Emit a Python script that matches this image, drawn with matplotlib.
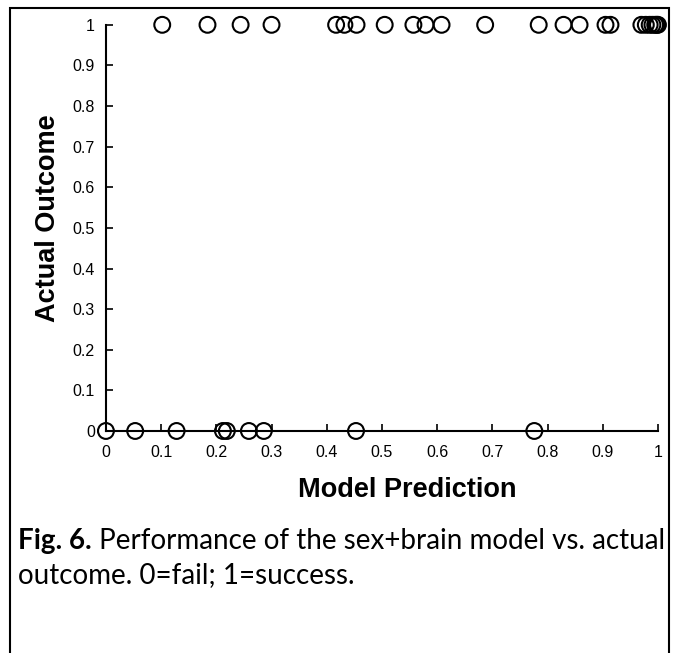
import numpy as np
import matplotlib
matplotlib.use("Agg")
from matplotlib import pyplot as plt
from matplotlib.patches import Rectangle

# model predictions for each outcome group
pred_success = [0.102, 0.184, 0.244, 0.300, 0.417, 0.432, 0.454, 0.505,
                0.557, 0.579, 0.608, 0.687, 0.784, 0.829, 0.858, 0.905,
                0.914, 0.970, 0.978, 0.985, 0.990, 0.995, 0.998, 1.0]
pred_fail = [0.0, 0.053, 0.128, 0.212, 0.219, 0.259, 0.286, 0.453, 0.776]

ticks = [0, 0.1, 0.2, 0.3, 0.4, 0.5, 0.6, 0.7, 0.8, 0.9, 1]
tick_labels = ["0", "0.1", "0.2", "0.3", "0.4", "0.5", "0.6", "0.7", "0.8", "0.9", "1"]

plt.rcParams['font.family'] = ['Liberation Sans', 'DejaVu Sans']

fig = plt.figure(figsize=(6.79, 6.53), dpi=100)
ax = fig.add_axes([0.156, 0.34, 0.813, 0.622])

x = pred_success + pred_fail
y = [1] * len(pred_success) + [0] * len(pred_fail)
ax.scatter(x, y, s=130, facecolors='none', edgecolors='black', linewidths=1.5,
           clip_on=False, zorder=3)

ax.set_xlim(0, 1)
ax.set_ylim(0, 1)
ax.set_xticks(ticks)
ax.set_xticklabels(tick_labels)
ax.set_yticks(ticks)
ax.set_yticklabels(tick_labels)
ax.tick_params(direction='in', length=5, width=1.2, labelsize=11.5)
ax.tick_params(axis='y', pad=8)
ax.tick_params(axis='x', pad=10)
for s in ['top', 'right']:
    ax.spines[s].set_visible(False)
for s in ['left', 'bottom']:
    ax.spines[s].set_linewidth(1.5)

ax.set_xlabel('Model Prediction', fontsize=19.5, fontweight='bold', labelpad=12)
ax.set_ylabel('Actual Outcome', fontsize=19.5, fontweight='bold', labelpad=8)
ax.xaxis.label.set_x(0.545)
ax.yaxis.label.set_y(0.525)

# caption under the plot
cap1 = fig.text(0.027, 0.172, 'Fig. 6.', fontsize=20, family='Lato',
                fontweight='bold', va='center')
ax.annotate(' Performance of the sex+brain model vs. actual', xy=(1, 0),
            xycoords=cap1, fontsize=20, family='Lato', va='bottom',
            annotation_clip=False)
fig.text(0.027, 0.12, 'outcome. 0=fail; 1=success.', fontsize=20,
         family='Lato', va='center')

# frame round the whole figure, open at the bottom
fig.patches.append(Rectangle((10 / 679, -0.1), 659 / 679, 1.1 - 8 / 653,
                             transform=fig.transFigure, fill=False,
                             edgecolor='black', linewidth=1.5))

fig.savefig('out.png', dpi=100)
